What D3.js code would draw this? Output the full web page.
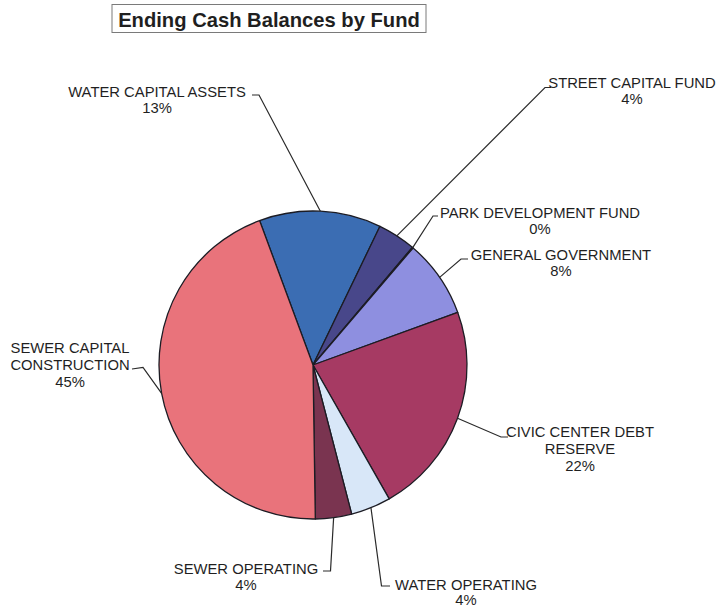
<!DOCTYPE html>
<html>
<head>
<meta charset="utf-8">
<script src="https://cdn.jsdelivr.net/npm/d3@7"></script>
<style>
  html, body { margin: 0; padding: 0; background: #ffffff; }
  svg { display: block; }
  text { font-family: "Liberation Sans", Arial, sans-serif; fill: #1f1f1f; }
</style>
</head>
<body>
<svg id="chart" width="721" height="609"></svg>
<script>
// Fund names (clockwise order around the pie) and ending cash balance shares
const funds = [
  "WATER CAPITAL ASSETS",
  "STREET CAPITAL FUND",
  "PARK DEVELOPMENT FUND",
  "GENERAL GOVERNMENT",
  "CIVIC CENTER DEBT RESERVE",
  "WATER OPERATING",
  "SEWER OPERATING",
  "SEWER CAPITAL CONSTRUCTION"
];
const balances = [12.8, 4.0, 0.1, 8.2, 22.3, 4.2, 3.8, 44.6];
const fundColors = ["#3b6db3", "#48478a", "#6a6ab8", "#8e8fe0", "#a63a63", "#d8e7f8", "#7a3450", "#e9737b"];
const titleText = "Ending Cash Balances by Fund";

// Label layout: text lines, block centre x, first baseline y, line step, leader elbow and tick end
const labelLayout = [
  { lines: ["WATER CAPITAL ASSETS"], cx: 157, y: 96.5, step: 16, elbow: [259, 95], tick: [252, 95] },
  { lines: ["STREET CAPITAL FUND"], cx: 632, y: 88, step: 16, elbow: [545, 87.5], tick: [551, 87.5] },
  { lines: ["PARK DEVELOPMENT FUND"], cx: 540, y: 218, step: 16, elbow: [433, 216], tick: [438, 216] },
  { lines: ["GENERAL GOVERNMENT"], cx: 561, y: 260, step: 16, elbow: [461, 259], tick: [468, 259] },
  { lines: ["CIVIC CENTER DEBT", "RESERVE"], cx: 580, y: 437, step: 17, elbow: [501, 437], tick: [508, 437] },
  { lines: ["WATER OPERATING"], cx: 466, y: 589.5, step: 15.5, elbow: [381.5, 586], tick: [390, 586] },
  { lines: ["SEWER OPERATING"], cx: 246, y: 574, step: 16, elbow: [330.5, 571], tick: [323, 571] },
  { lines: ["SEWER CAPITAL", "CONSTRUCTION"], cx: 70, y: 353, step: 17, elbow: [143, 367.5], tick: [132, 369] }
];

const svg = d3.select("#chart");
const cx = 313, cy = 365, radius = 154;

// Title box
const title = svg.append("g");
title.append("rect")
  .attr("x", 112).attr("y", 4.5).attr("width", 314).attr("height", 28)
  .attr("fill", "#ffffff").attr("stroke", "#7a7a7a").attr("stroke-width", 1);
title.append("text")
  .attr("x", 269).attr("y", 26.5)
  .attr("text-anchor", "middle")
  .attr("font-size", 20.2).attr("font-weight", "bold")
  .attr("fill", "#1e1e1e")
  .text(titleText);

const data = funds.map((name, i) => ({ name, value: balances[i], color: fundColors[i], layout: labelLayout[i] }));
const total = d3.sum(balances);

const start = -20.3 * Math.PI / 180;
const pie = d3.pie().sort(null).value(d => d.value)
  .startAngle(start).endAngle(start + 2 * Math.PI);
const arcs = pie(data);

const arc = d3.arc().innerRadius(0).outerRadius(radius);
const edge = d3.arc().innerRadius(radius).outerRadius(radius);

const g = svg.append("g").attr("transform", `translate(${cx},${cy})`);
g.selectAll("path.slice")
  .data(arcs)
  .join("path")
  .attr("class", "slice")
  .attr("d", arc)
  .attr("fill", d => d.data.color)
  .attr("stroke", "#1c1c24")
  .attr("stroke-width", 1.3)
  .attr("stroke-linejoin", "round");

// Leader lines from each slice's outer edge to its label
svg.append("g")
  .selectAll("polyline")
  .data(arcs)
  .join("polyline")
  .attr("points", d => {
    const [ex, ey] = edge.centroid(d);
    const L = d.data.layout;
    return [[cx + ex, cy + ey], L.elbow, L.tick].map(p => p.join(",")).join(" ");
  })
  .attr("fill", "none")
  .attr("stroke", "#2a2a2a")
  .attr("stroke-width", 1.2);

// Labels: fund name lines followed by the rounded percentage
const labels = svg.append("g")
  .selectAll("text")
  .data(arcs)
  .join("text")
  .attr("text-anchor", "middle")
  .attr("font-size", 14.8)
  .attr("x", d => d.data.layout.cx)
  .attr("y", d => d.data.layout.y);

labels.each(function (d) {
  const t = d3.select(this);
  const lines = d.data.layout.lines.concat([Math.round(100 * d.data.value / total) + "%"]);
  lines.forEach((line, i) => {
    t.append("tspan")
      .attr("x", d.data.layout.cx)
      .attr("dy", i === 0 ? 0 : d.data.layout.step)
      .text(line);
  });
});
</script>
</body>
</html>
